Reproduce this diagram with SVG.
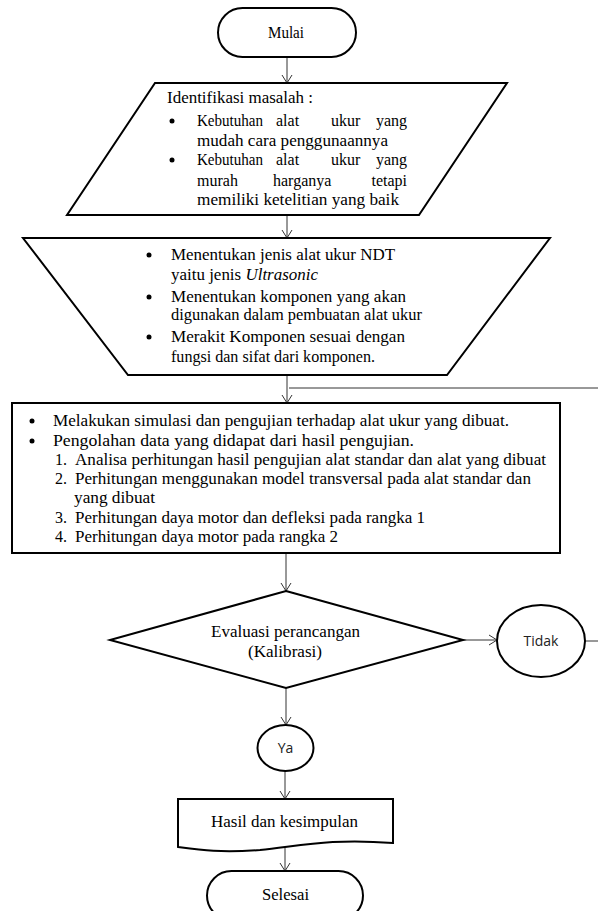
<svg xmlns="http://www.w3.org/2000/svg" width="598" height="911" viewBox="0 0 598 911">
<defs>
<style>
.shape{fill:#fff;stroke:#000;stroke-width:2;stroke-linejoin:miter}
.conn{fill:none;stroke:#333;stroke-width:1}
.t{font-family:"Liberation Serif","Times New Roman",serif;font-size:16px;fill:#000}
.s{font-family:"Open Sans","Liberation Sans",sans-serif;font-size:14px;fill:#222}
.b{fill:#000}
</style>
<marker id="arr" markerUnits="userSpaceOnUse" markerWidth="12" markerHeight="12" refX="9" refY="6" orient="auto">
<path d="M1,1 L9,6 L1,11" fill="none" stroke="#333" stroke-width="1"/>
</marker>
</defs>
<rect width="598" height="911" fill="#fff"/>

<g id="connectors">
<line class="conn" x1="287" y1="57" x2="287" y2="83" marker-end="url(#arr)"/>
<line class="conn" x1="287" y1="215" x2="287" y2="238" marker-end="url(#arr)"/>
<line class="conn" x1="287" y1="375" x2="287" y2="403" marker-end="url(#arr)"/>
<line class="conn" x1="598" y1="641" x2="585" y2="641"/>
<line class="conn" x1="598" y1="388" x2="289" y2="388"/>
<line class="conn" x1="286" y1="553" x2="286" y2="591" marker-end="url(#arr)"/>
<line class="conn" x1="463" y1="640" x2="497" y2="640" marker-end="url(#arr)"/>
<line class="conn" x1="286" y1="688" x2="286" y2="725" marker-end="url(#arr)"/>
<line class="conn" x1="285" y1="771" x2="285" y2="799" marker-end="url(#arr)"/>
<line class="conn" x1="285" y1="848" x2="285" y2="871" marker-end="url(#arr)"/>
</g>

<g id="mulai">
<rect class="shape" x="218" y="8" width="138" height="49" rx="24.5" ry="24.5"/>
<text class="t" x="268" y="38" textLength="36" lengthAdjust="spacingAndGlyphs">Mulai</text>
</g>

<g id="identifikasi">
<polygon class="shape" points="155,83 507,83 419,215 67,215"/>
<text class="t" x="167" y="103" textLength="146" lengthAdjust="spacingAndGlyphs">Identifikasi masalah :</text>
<circle class="b" cx="172" cy="121" r="2.5"/>
<text class="t" x="197" y="126" textLength="66" lengthAdjust="spacingAndGlyphs">Kebutuhan</text>
<text class="t" x="276" y="126">alat</text>
<text class="t" x="331" y="126">ukur</text>
<text class="t" x="407" y="126" text-anchor="end">yang</text>
<text class="t" x="197" y="146" textLength="191" lengthAdjust="spacingAndGlyphs">mudah cara penggunaannya</text>
<circle class="b" cx="172" cy="160" r="2.5"/>
<text class="t" x="197" y="165" textLength="66" lengthAdjust="spacingAndGlyphs">Kebutuhan</text>
<text class="t" x="276" y="165">alat</text>
<text class="t" x="331" y="165">ukur</text>
<text class="t" x="407" y="165" text-anchor="end">yang</text>
<text class="t" x="197" y="186">murah</text>
<text class="t" x="273" y="186">harganya</text>
<text class="t" x="407" y="186" text-anchor="end">tetapi</text>
<text class="t" x="197" y="205" textLength="202" lengthAdjust="spacingAndGlyphs">memiliki ketelitian yang baik</text>
</g>

<g id="menentukan">
<polygon class="shape" points="23,238 550,238 447,375 128,375"/>
<circle class="b" cx="149" cy="255" r="2.5"/>
<text class="t" x="171" y="260" textLength="224" lengthAdjust="spacingAndGlyphs">Menentukan jenis alat ukur NDT</text>
<text class="t" x="171" y="280" textLength="147" lengthAdjust="spacingAndGlyphs">yaitu jenis <tspan font-style="italic">Ultrasonic</tspan></text>
<circle class="b" cx="149" cy="297" r="2.5"/>
<text class="t" x="171" y="302" textLength="235" lengthAdjust="spacingAndGlyphs">Menentukan komponen yang akan</text>
<text class="t" x="171" y="320" textLength="251" lengthAdjust="spacingAndGlyphs">digunakan dalam pembuatan alat ukur</text>
<circle class="b" cx="149" cy="337" r="2.5"/>
<text class="t" x="171" y="342" textLength="234" lengthAdjust="spacingAndGlyphs">Merakit Komponen sesuai dengan</text>
<text class="t" x="171" y="362" textLength="204" lengthAdjust="spacingAndGlyphs">fungsi dan sifat dari komponen.</text>
</g>

<g id="simulasi">
<rect class="shape" x="12" y="403" width="548" height="150"/>
<circle class="b" cx="32" cy="421" r="2.5"/>
<text class="t" x="53" y="426" textLength="456" lengthAdjust="spacingAndGlyphs">Melakukan simulasi dan pengujian terhadap alat ukur yang dibuat.</text>
<circle class="b" cx="32" cy="441" r="2.5"/>
<text class="t" x="53" y="446" textLength="361" lengthAdjust="spacingAndGlyphs">Pengolahan data yang didapat dari hasil pengujian.</text>
<text class="t" x="55" y="465">1.</text>
<text class="t" x="75" y="465" textLength="471" lengthAdjust="spacingAndGlyphs">Analisa perhitungan hasil pengujian alat standar dan alat yang dibuat</text>
<text class="t" x="55" y="484">2.</text>
<text class="t" x="75" y="484" textLength="456" lengthAdjust="spacingAndGlyphs">Perhitungan menggunakan model transversal pada alat standar dan</text>
<text class="t" x="74" y="503" textLength="81" lengthAdjust="spacingAndGlyphs">yang dibuat</text>
<text class="t" x="55" y="523">3.</text>
<text class="t" x="75" y="523" textLength="350" lengthAdjust="spacingAndGlyphs">Perhitungan daya motor dan defleksi pada rangka 1</text>
<text class="t" x="55" y="542">4.</text>
<text class="t" x="75" y="542" textLength="263" lengthAdjust="spacingAndGlyphs">Perhitungan daya motor pada rangka 2</text>
</g>

<g id="evaluasi">
<polygon class="shape" points="286,591 463,640 286,688 110,640"/>
<text class="t" x="211" y="637" textLength="149" lengthAdjust="spacingAndGlyphs">Evaluasi perancangan</text>
<text class="t" x="248" y="657" textLength="74" lengthAdjust="spacingAndGlyphs">(Kalibrasi)</text>
</g>

<g id="tidak">
<ellipse class="shape" cx="541" cy="641" rx="44" ry="36"/>
<text class="s" x="541" y="646" text-anchor="middle">Tidak</text>
</g>

<g id="ya">
<ellipse class="shape" cx="285.5" cy="748" rx="28" ry="23"/>
<text class="s" x="285.5" y="753" text-anchor="middle">Ya</text>
</g>

<g id="hasil">
<path class="shape" d="M178,799 H393 V843 C330,838 300,846 260,850 C220,853 200,850 178,847 Z"/>
<text class="t" x="211" y="827" textLength="147" lengthAdjust="spacingAndGlyphs">Hasil dan kesimpulan</text>
</g>

<g id="selesai">
<rect class="shape" x="207" y="871" width="156" height="49" rx="24.5" ry="24.5"/>
<text class="t" x="262" y="900" textLength="47" lengthAdjust="spacingAndGlyphs">Selesai</text>
</g>
</svg>
